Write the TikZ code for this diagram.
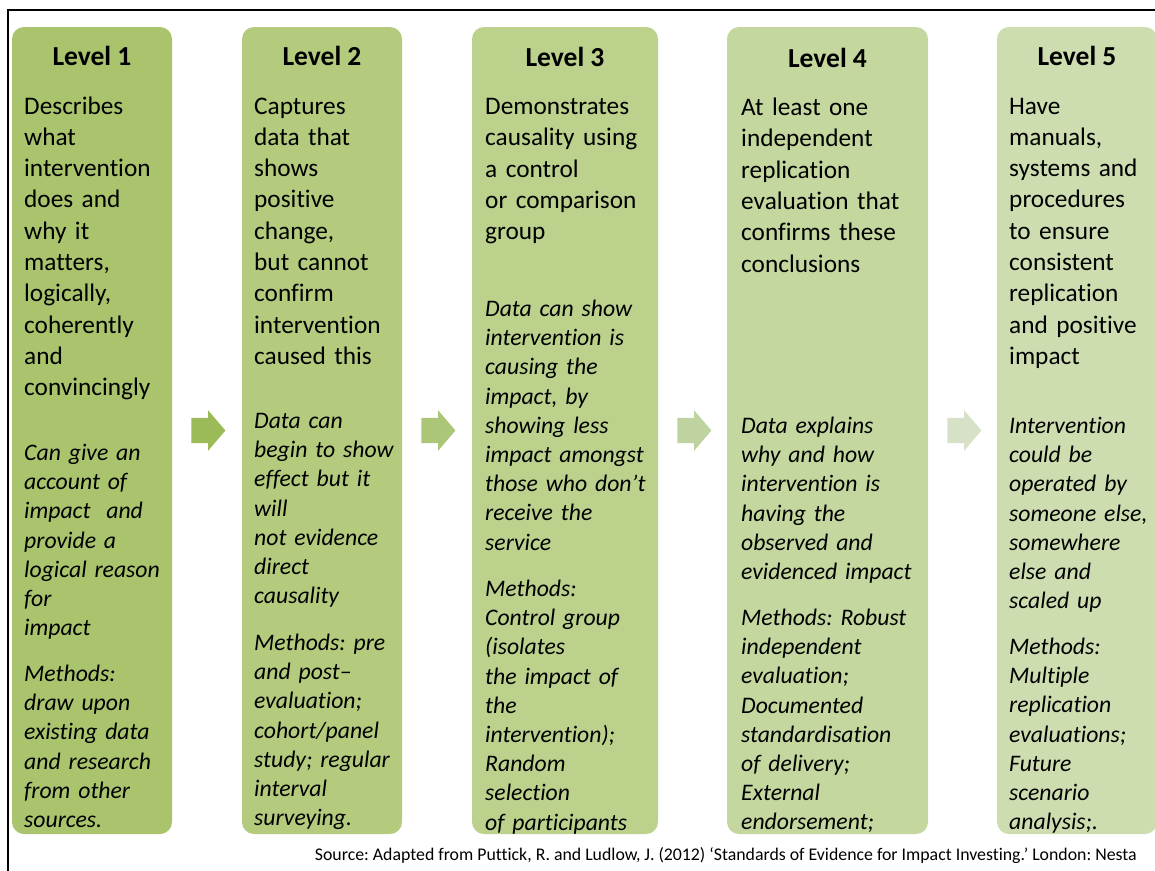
\documentclass[tikz,border=0pt]{standalone}
\usepackage{fontspec}
\setmainfont{Carlito}[Ligatures=NoCommon]
\usetikzlibrary{shapes.arrows}
\frenchspacing

\definecolor{lvA}{RGB}{169,196,108}
\definecolor{lvB}{RGB}{180,203,126}
\definecolor{lvC}{RGB}{187,209,140}
\definecolor{lvD}{RGB}{196,215,158}
\definecolor{lvE}{RGB}{206,221,176}
\definecolor{arA}{RGB}{155,187,89}
\definecolor{arB}{RGB}{171,198,118}
\definecolor{arC}{RGB}{191,211,161}
\definecolor{arD}{RGB}{214,225,200}

\begin{document}
\begin{tikzpicture}[x=1pt,y=-1pt,
  levelbox/.style={rounded corners=12pt, inner sep=0pt, minimum height=807pt},
  lvhead/.style={anchor=base, inner sep=0pt, font=\fontsize{27.5}{31}\selectfont\bfseries},
  plaintext/.style={anchor=base west, inner sep=0pt, align=left, font=\fontsize{25.3}{31.33}\selectfont},
  evtext/.style={anchor=base west, inner sep=0pt, align=left, font=\fontsize{23.7}{29.2}\selectfont\itshape},
  stepper/.style={single arrow, single arrow head extend=7.5pt, single arrow tip angle=99,
    minimum height=34pt, inner xsep=0pt, inner ysep=12.5pt, anchor=tail}]
\useasboundingbox (0,0) rectangle (1155,870);
\clip (0,0) rectangle (1155,870);
\draw[line width=1.5pt] (1170,10) -- (8,10) -- (8,885);

\foreach \n/\l/\r/\c/\h in {1/12/172/lvA/65, 2/242/402/lvB/65, 3/472/658/lvC/66,
                            4/727/928/lvD/67, 5/997/1157/lvE/65}
{
  \node[levelbox, fill=\c, minimum width={\r-\l}] (box\n) at ({(\l+\r)/2},430.5) {};
  \node[lvhead] (hd\n) at ({(\l+\r)/2},\h) {Level \n};
}

\foreach \a/\c in {1/arA, 2/arB, 3/arC, 4/arD}
  \node[stepper, fill=\c] (ar\a) at ([xshift=19pt]box\a.east) {};

\node[plaintext, text width=155pt] (ds1) at (24,114) {Describes\\what\\intervention\\does and\\why it\\matters,\\logically,\\coherently\\and\\convincingly};
\node[evtext, text width=155pt] (ev1) at (24,460.5) {Can give an\\account of\\impact\ \ and\\provide a\\logical reason\\for\\impact};
\node[evtext, text width=155pt] (me1) at (24,681.5) {Methods:\\draw upon\\existing data\\and research\\from other\\sources.};

\node[plaintext, text width=155pt] (ds2) at (254,114) {Captures\\data that\\shows\\positive\\change,\\but cannot\\confirm\\intervention\\caused this};
\node[evtext, text width=155pt] (ev2) at (254,428.5) {Data can\\begin to show\\effect but it\\will\\not evidence\\direct\\causality};
\node[evtext, text width=155pt] (me2) at (254,650.5) {Methods: pre\\and post–\\evaluation;\\cohort/panel\\study; regular\\interval\\surveying.};

\node[plaintext, text width=180pt] (ds3) at (485,114.5) {Demonstrates\\causality using\\a control\\or comparison\\group};
\node[evtext, text width=180pt] (ev3) at (485,316.5) {Data can show\\intervention is\\causing the\\impact, by\\showing less\\impact amongst\\those who don’t\\receive the\\service};
\node[evtext, text width=180pt] (me3) at (485,596.5) {Methods:\\Control group\\(isolates\\the impact of\\the\\intervention);\\Random\\selection\\of participants};

\node[plaintext, text width=195pt] (ds4) at (741,115.5) {At least one\\independent\\replication\\evaluation that\\confirms these\\conclusions};
\node[evtext, text width=195pt] (ev4) at (741,433.5) {Data explains\\why and how\\intervention is\\having the\\observed and\\evidenced impact};
\node[evtext, text width=195pt] (me4) at (741,625.5) {Methods: Robust\\independent\\evaluation;\\Documented\\standardisation\\of delivery;\\External\\endorsement;};

\node[plaintext, text width=145pt] (ds5) at (1009,114) {Have\\manuals,\\systems and\\procedures\\to ensure\\consistent\\replication\\and positive\\impact};
\node[evtext, text width=145pt] (ev5) at (1009,433.5) {Intervention\\could be\\operated by\\someone else,\\somewhere\\else and\\scaled up};
\node[evtext, text width=145pt] (me5) at (1009,654.5) {Methods:\\Multiple\\replication\\evaluations;\\Future\\scenario\\analysis;.};

\node[anchor=base east, inner sep=0pt, font=\fontsize{17.8}{20}\selectfont] (src) at (1137,860)
  {Source: Adapted from Puttick, R. and Ludlow, J. (2012) ‘Standards of Evidence for Impact Investing.’ London: Nesta};
\end{tikzpicture}
\end{document}
